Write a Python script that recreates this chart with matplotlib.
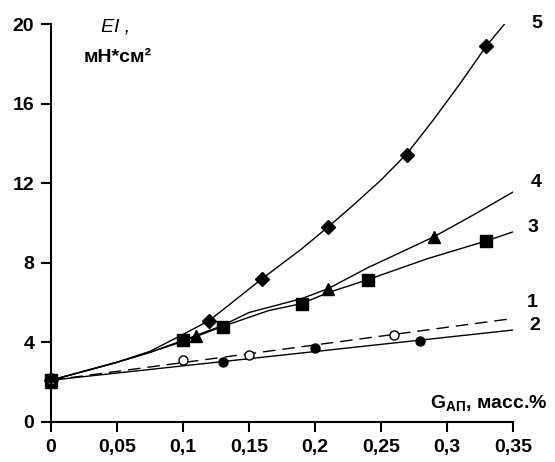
import numpy as np
import matplotlib
matplotlib.use("Agg")
import matplotlib.pyplot as plt

plt.rcParams['font.family'] = ['Liberation Sans', 'DejaVu Sans']
plt.rcParams['mathtext.fontset'] = 'custom'
plt.rcParams['mathtext.rm'] = 'Liberation Sans'
plt.rcParams['mathtext.bf'] = 'Liberation Sans:bold'
plt.rcParams['mathtext.it'] = 'Liberation Sans:italic'

# экспериментальные точки (кривые 1-5)
x5 = [0, 0.12, 0.16, 0.21, 0.27, 0.33]
y5 = [2.1, 5.1, 7.2, 9.8, 13.4, 18.9]
x4 = [0, 0.11, 0.21, 0.29]
y4 = [2.0, 4.3, 6.7, 9.3]
x3 = [0, 0.10, 0.13, 0.19, 0.24, 0.33]
y3 = [2.1, 4.1, 4.75, 5.95, 7.15, 9.1]
x1 = [0, 0.10, 0.15, 0.26]
y1 = [2.1, 3.1, 3.35, 4.35]
x2 = [0, 0.13, 0.20, 0.28]
y2 = [2.2, 3.0, 3.7, 4.05]

# линии тренда
line5_x = [0, 0.05, 0.075, 0.10, 0.12, 0.14, 0.16, 0.19, 0.21, 0.23, 0.25,
           0.27, 0.29, 0.31, 0.33, 0.345]
line5_y = [2.1, 3.0, 3.55, 4.4, 5.1, 6.15, 7.2, 8.7, 9.8, 10.95, 12.15,
           13.5, 15.2, 17.0, 18.9, 20.1]
line4_x = [0, 0.05, 0.075, 0.10, 0.13, 0.15, 0.19, 0.21, 0.24, 0.29, 0.32, 0.35]
line4_y = [2.1, 3.0, 3.5, 4.1, 4.85, 5.5, 6.2, 6.7, 7.75, 9.3, 10.4, 11.55]
line3_x = [0, 0.05, 0.075, 0.10, 0.13, 0.165, 0.19, 0.21, 0.24, 0.285, 0.33, 0.35]
line3_y = [2.1, 3.0, 3.5, 4.05, 4.8, 5.6, 5.95, 6.5, 7.15, 8.2, 9.1, 9.55]
line1_x = [0, 0.35]
line1_y = [2.1, 5.2]
line2_x = [0, 0.35]
line2_y = [2.1, 4.62]

curve_labels = ['1', '2', '3', '4', '5']
label_x = [0.365, 0.367, 0.365, 0.368, 0.368]
label_y = [6.0, 4.87, 9.75, 12.06, 20.05]

xticks = [0, 0.05, 0.1, 0.15, 0.2, 0.25, 0.3, 0.35]
xtick_labels = ['0', '0,05', '0,1', '0,15', '0,2', '0,25', '0,3', '0,35']
yticks = [0, 4, 8, 12, 16, 20]

fig = plt.figure(figsize=(5.55, 4.62), dpi=100)
ax = fig.add_axes([0.0919, 0.0866, 0.832, 0.8614])

lw = 1.0
ax.plot(line5_x, line5_y, 'k-', lw=lw)
ax.plot(line4_x, line4_y, 'k-', lw=lw)
ax.plot(line3_x, line3_y, 'k-', lw=lw)
ax.plot(line1_x, line1_y, 'k-', lw=lw, dashes=(9, 5))
ax.plot(line2_x, line2_y, 'k-', lw=lw)

ax.plot(x5, y5, 'kD', ms=7, clip_on=False)
ax.plot(x4, y4, 'k^', ms=8, clip_on=False)
ax.plot(x3, y3, 'ks', ms=8, clip_on=False)
ax.plot(x1, y1, 'o', ms=6.5, mfc='white', mec='black', mew=1, clip_on=False)
ax.plot(x2, y2, 'ko', ms=6.5, clip_on=False)

for t, lx, ly in zip(curve_labels, label_x, label_y):
    ax.text(lx, ly, t, ha='center', va='center', fontsize=14,
            fontweight='bold', clip_on=False)

ax.set_xlim(0, 0.35)
ax.set_ylim(0, 20)
ax.set_xticks(xticks)
ax.set_xticklabels(xtick_labels)
ax.set_yticks(yticks)

for s in ['top', 'right']:
    ax.spines[s].set_visible(False)
for s in ['left', 'bottom']:
    ax.spines[s].set_linewidth(1.5)
ax.tick_params(direction='out', length=7, width=1.5, labelsize=14)
ax.tick_params(axis='x', pad=5)
ax.tick_params(axis='y', pad=5)
for lab in ax.get_xticklabels() + ax.get_yticklabels():
    lab.set_fontweight('bold')

ax.text(0.049, 19.85, 'EI ,', ha='center', va='center', fontsize=14,
        style='italic')
ax.text(0.0508, 18.34, 'мН*см²', ha='center', va='center', fontsize=14,
        fontweight='bold')
ax.text(0.287, 0.95, r'$\mathbf{G}_{\mathbf{АП}}$, масс.%', ha='left',
        va='center', fontsize=14, fontweight='bold', clip_on=False)

fig.savefig('out.png', dpi=100)
